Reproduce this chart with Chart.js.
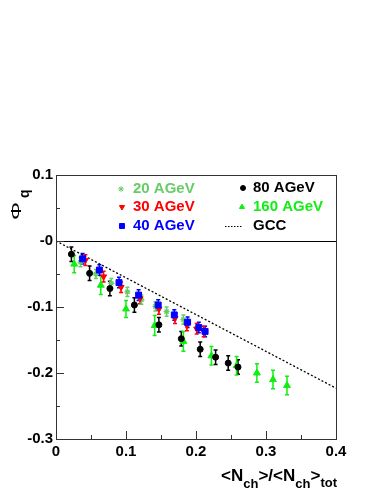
<!DOCTYPE html>
<html>
<head>
<meta charset="utf-8">
<script src="https://cdn.jsdelivr.net/npm/chart.js@4.4.1/dist/chart.umd.min.js"></script>
<style>
  html, body { margin: 0; padding: 0; background: #fff; }
  canvas { display: block; }
</style>
</head>
<body>
<canvas id="chart" width="379" height="491"></canvas>
<script>
// valori
const xMin = 0, xMax = 0.4;
const yMin = -0.3, yMax = 0.1;
const xTickLabels = ['0', '0.1', '0.2', '0.3', '0.4'];
const yTickLabels = ['-0.3', '-0.2', '-0.1', '-0', '0.1'];

const e20x = [0.035, 0.057, 0.079, 0.102, 0.122, 0.142, 0.158, 0.182];
const e20y = [-0.032, -0.050, -0.064, -0.077, -0.089, -0.099, -0.107, -0.119];
const e20err = [0.007, 0.007, 0.007, 0.007, 0.007, 0.007, 0.007, 0.007];

const e30x = [0.042, 0.068, 0.093, 0.120, 0.147, 0.170, 0.187, 0.201, 0.211];
const e30y = [-0.029, -0.054, -0.070, -0.087, -0.103, -0.117, -0.128, -0.133, -0.137];
const e30err = [0.008, 0.008, 0.008, 0.008, 0.008, 0.008, 0.008, 0.008, 0.008];

const e40x = [0.038, 0.062, 0.090, 0.118, 0.146, 0.169, 0.188, 0.204, 0.213];
const e40y = [-0.027, -0.044, -0.063, -0.082, -0.097, -0.112, -0.123, -0.131, -0.137];
const e40err = [0.008, 0.008, 0.008, 0.008, 0.008, 0.008, 0.008, 0.008, 0.008];

const e80x = [0.022, 0.048, 0.077, 0.112, 0.147, 0.179, 0.206, 0.228, 0.246, 0.260];
const e80y = [-0.020, -0.049, -0.072, -0.097, -0.127, -0.148, -0.164, -0.176, -0.185, -0.191];
const e80err = [0.011, 0.011, 0.011, 0.011, 0.011, 0.011, 0.011, 0.011, 0.011, 0.011];

const e160x = [0.026, 0.064, 0.100, 0.141, 0.182, 0.222, 0.258, 0.287, 0.310, 0.330];
const e160y = [-0.035, -0.067, -0.103, -0.128, -0.152, -0.174, -0.189, -0.200, -0.210, -0.219];
const e160err = [0.013, 0.014, 0.013, 0.015, 0.015, 0.014, 0.014, 0.014, 0.014, 0.014];

const gccX = [0, 0.4];
const gccY = [0, -0.223];

const legendNames = ['20 AGeV', '30 AGeV', '40 AGeV', '80 AGeV', '160 AGeV', 'GCC'];
const colori = ['#66cc66', '#ff0000', '#0000ff', '#000000', '#11ee11', '#000000'];

function punti(xs, ys) {
    return xs.map((x, i) => ({ x: x, y: ys[i] }));
}

const ctx = document.querySelector('#chart');

const data = {
    datasets: [
        { label: legendNames[3], data: punti(e80x, e80y), errs: e80err, backgroundColor: colori[3], borderColor: colori[3],
          pointStyle: 'circle', pointRadius: 3, borderWidth: 1 },
        { label: legendNames[4], data: punti(e160x, e160y), errs: e160err, backgroundColor: colori[4], borderColor: colori[4],
          pointStyle: 'triangle', pointRadius: 4, borderWidth: 1 },
        { label: legendNames[2], data: punti(e40x, e40y), errs: e40err, backgroundColor: colori[2], borderColor: colori[2],
          pointStyle: 'rect', pointRadius: 4.2, borderWidth: 1 },
        { label: legendNames[1], data: punti(e30x, e30y), errs: e30err, backgroundColor: colori[1], borderColor: colori[1],
          pointStyle: 'triangle', rotation: 180, pointRadius: 3.5, borderWidth: 1 },
        { label: legendNames[0], data: punti(e20x, e20y), errs: e20err, backgroundColor: colori[0], borderColor: colori[0],
          pointStyle: 'star', pointRadius: 3, borderWidth: 1.3 },
        { label: legendNames[5], type: 'line', data: punti(gccX, gccY), borderColor: colori[5], borderWidth: 1.3,
          borderDash: [2, 2], pointRadius: 0, fill: false }
    ]
};

// barre d'errore, linea dello zero, cornice e tacche (stile ROOT)
const disegnoExtra = {
    id: 'disegnoExtra',
    beforeDatasetsDraw(chart) {
        const c = chart.ctx, xs = chart.scales.x, ys = chart.scales.y, a = chart.chartArea;
        c.save();
        // linea a y=0
        c.strokeStyle = '#000';
        c.lineWidth = 1;
        const y0 = Math.round(ys.getPixelForValue(0)) + 0.5;
        c.beginPath(); c.moveTo(a.left, y0); c.lineTo(a.right, y0); c.stroke();
        chart.data.datasets.forEach(ds => {
            if (!ds.errs) return;
            c.strokeStyle = ds.borderColor;
            c.lineWidth = 1.5;
            ds.data.forEach((p, i) => {
                const px = xs.getPixelForValue(p.x);
                const pa = ys.getPixelForValue(p.y + ds.errs[i]);
                const pb = ys.getPixelForValue(p.y - ds.errs[i]);
                c.beginPath();
                c.moveTo(px, pa); c.lineTo(px, pb);
                c.moveTo(px - 2, pa); c.lineTo(px + 2, pa);
                c.moveTo(px - 2, pb); c.lineTo(px + 2, pb);
                c.stroke();
            });
        });
        c.restore();
    },
    afterDraw(chart) {
        const c = chart.ctx, xs = chart.scales.x, ys = chart.scales.y, a = chart.chartArea;
        c.save();
        c.strokeStyle = '#333';
        c.lineWidth = 1;
        c.strokeRect(Math.round(a.left) + 0.5, Math.round(a.top) + 0.5, Math.round(a.right - a.left), Math.round(a.bottom - a.top));
        c.beginPath();
        for (let v = yMin; v <= yMax + 1e-9; v += 0.05) {
            const py = Math.round(ys.getPixelForValue(v)) + 0.5;
            const major = Math.abs(Math.round(v * 10) - v * 10) < 1e-6;
            c.moveTo(a.left, py); c.lineTo(a.left + (major ? 8 : 4), py);
        }
        for (let v = xMin; v <= xMax + 1e-9; v += 0.05) {
            const px = Math.round(xs.getPixelForValue(v)) + 0.5;
            const major = Math.abs(Math.round(v * 10) - v * 10) < 1e-6;
            c.moveTo(px, a.bottom); c.lineTo(px, a.bottom - (major ? 8 : 4));
        }
        c.stroke();

        // titolo asse y: Phi_q
        c.fillStyle = '#000';
        c.save();
        c.translate(21, 220);
        c.rotate(-Math.PI / 2);
        c.save();
        c.scale(1.5, 1);
        c.font = '15px "Liberation Sans", Arial, sans-serif';
        c.textBaseline = 'alphabetic';
        c.textAlign = 'left';
        c.fillText('Φ', 0, 0);
        c.restore();
        c.font = 'bold 14px "Liberation Sans", Arial, sans-serif';
        c.fillText('q', 22, 8);
        c.restore();

        // titolo asse x: <N_ch>/<N_ch>_tot
        const big = 'bold 17px "Liberation Sans", Arial, sans-serif';
        const small = 'bold 13px "Liberation Sans", Arial, sans-serif';
        const pezzi = [['<N', big, 0], ['ch', small, 7], ['>/<N', big, 0], ['ch', small, 7], ['>', big, 0], ['tot', small, 6]];
        let w = 0;
        pezzi.forEach(p => { c.font = p[1]; w += c.measureText(p[0]).width; });
        let x = a.right + 1 - w;
        c.textAlign = 'left';
        c.textBaseline = 'alphabetic';
        pezzi.forEach(p => {
            c.font = p[1];
            c.fillText(p[0], x, 481 + p[2]);
            x += c.measureText(p[0]).width;
        });

        // legenda
        const righe = [
            [121, 133, 189, 0], [122, 133, 207, 1], [122, 133, 226, 2],
            [243, 253, 188, 3], [242, 253, 207, 4], [234, 253, 226, 5]
        ];
        c.font = 'bold 15px "Liberation Sans", Arial, sans-serif';
        c.textBaseline = 'middle';
        righe.forEach(r => {
            const k = r[3];
            c.fillStyle = colori[k];
            c.fillText(legendNames[k], r[1], r[2]);
        });
        // simboli della legenda
        const stile = [['star', 0, 2.8], ['triangle', 180, 3], ['rect', 0, 3.5], ['circle', 0, 2.5], ['triangle', 0, 3]];
        righe.slice(0, 5).forEach(r => {
            const k = r[3];
            c.fillStyle = colori[k];
            c.strokeStyle = colori[k];
            c.lineWidth = 1;
            Chart.helpers.drawPoint(c, { pointStyle: stile[k][0], rotation: stile[k][1], radius: stile[k][2], borderWidth: 1 }, r[0], r[2]);
        });
        c.strokeStyle = '#000';
        c.lineWidth = 1.2;
        c.setLineDash([1.5, 1.5]);
        c.beginPath(); c.moveTo(225, 226.5); c.lineTo(243, 226.5); c.stroke();
        c.restore();
    }
};

const chart = new Chart(ctx, {
    type: 'scatter',
    data,
    options: {
        responsive: false,
        animation: false,
        devicePixelRatio: 1,
        layout: { padding: { top: 175, right: 43, left: 0, bottom: 0 } },
        plugins: { legend: { display: false }, tooltip: { enabled: false } },
        scales: {
            x: {
                type: 'linear', min: xMin, max: xMax,
                afterFit: s => { s.height = 52; },
                grid: { display: false, drawTicks: false },
                border: { display: false },
                ticks: {
                    stepSize: 0.1, padding: 4, color: '#000', maxRotation: 0,
                    font: { family: '"Liberation Sans", Arial, sans-serif', size: 15, weight: 'bold' },
                    callback: (v, i) => xTickLabels[i]
                }
            },
            y: {
                type: 'linear', min: yMin, max: yMax,
                afterFit: s => { s.width = 56; },
                grid: { display: false, drawTicks: false },
                border: { display: false },
                ticks: {
                    stepSize: 0.1, padding: 3, color: '#000',
                    font: { family: '"Liberation Sans", Arial, sans-serif', size: 15, weight: 'bold' },
                    callback: (v, i) => yTickLabels[i]
                }
            }
        }
    },
    plugins: [disegnoExtra]
});
</script>
</body>
</html>
